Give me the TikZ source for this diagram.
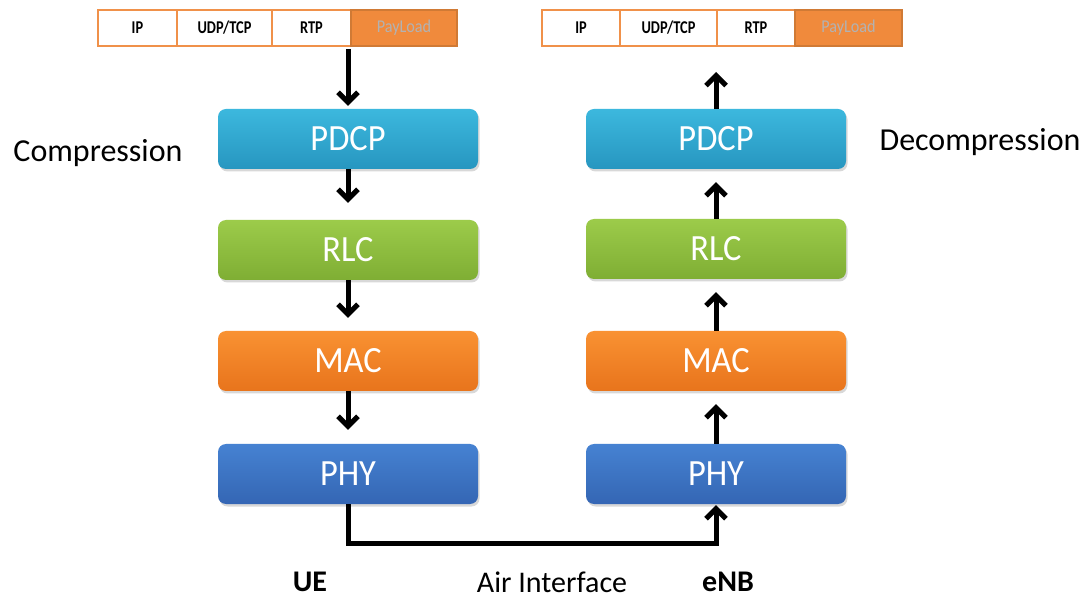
\documentclass[tikz,border=0pt]{standalone}
\usepackage{fontspec}
\setmainfont{Carlito}
\usetikzlibrary{arrows.meta,shadows}
\definecolor{hdr}{HTML}{F0914A}
\definecolor{hdrdark}{HTML}{D07A35}
\definecolor{payfill}{HTML}{F08A3C}
\definecolor{pdcpT}{HTML}{3CB8DE}
\definecolor{pdcpB}{HTML}{2796C0}
\definecolor{rlcT}{HTML}{9CCB4A}
\definecolor{rlcB}{HTML}{7FAE34}
\definecolor{macT}{HTML}{F99232}
\definecolor{macB}{HTML}{E8741C}
\definecolor{phyT}{HTML}{4682D2}
\definecolor{phyB}{HTML}{3466B4}
\begin{document}
\begin{tikzpicture}[x=1pt,y=-1pt]
\useasboundingbox[fill=white] (0,0) rectangle (1090,601);
\tikzset{
  layer/.style={rounded corners=8pt, minimum width=260pt, minimum height=60pt,
    text=white, font=\fontsize{37}{40}\selectfont, inner sep=0pt,
    drop shadow={opacity=0.3,shadow xshift=1.5pt,shadow yshift=-2.5pt}},
  pdcp/.style={layer, top color=pdcpT, bottom color=pdcpB},
  rlc/.style={layer, top color=rlcT, bottom color=rlcB},
  mac/.style={layer, top color=macT, bottom color=macB},
  phy/.style={layer, top color=phyT, bottom color=phyB},
  cell/.style={draw=hdr, line width=2.5pt, fill=white, minimum height=36pt, inner sep=0pt,
    font=\bfseries\fontsize{18}{20}\selectfont},
  paycell/.style={cell, fill=payfill, draw=hdrdark, font=\fontsize{18}{20}\selectfont, text=gray!60},
  flow/.style={line width=5pt, -{Straight Barb[length=10pt,width=20pt]}},
  lbl/.style={font=\fontsize{32}{36}\selectfont},
  blbl/.style={font=\bfseries\fontsize{30}{34}\selectfont}
}
% headers
\node[cell, minimum width=79pt] (lip) at (137.5,28) {\scalebox{0.8}[1]{IP}};
\node[cell, minimum width=95pt] (ludp) at (224.5,28) {\scalebox{0.8}[1]{UDP/TCP}};
\node[cell, minimum width=79pt] (lrtp) at (311.5,28) {\scalebox{0.8}[1]{RTP}};
\node[paycell, minimum width=106pt] (lpay) at (404,28) {\scalebox{0.9}[1]{PayLoad}};
\node[cell, minimum width=78pt] (rip) at (581,28) {\scalebox{0.8}[1]{IP}};
\node[cell, minimum width=97pt] (rudp) at (668.5,28) {\scalebox{0.8}[1]{UDP/TCP}};
\node[cell, minimum width=78pt] (rrtp) at (756,28) {\scalebox{0.8}[1]{RTP}};
\node[paycell, minimum width=107pt] (rpay) at (848.5,28) {\scalebox{0.9}[1]{PayLoad}};
% layers left
\node[pdcp] (lpdcp) at (348,139) {\scalebox{0.93}[1]{PDCP}};
\node[rlc]  (lrlc)  at (348,250) {\scalebox{0.93}[1]{RLC}};
\node[mac]  (lmac)  at (348,361) {\scalebox{0.93}[1]{MAC}};
\node[phy]  (lphy)  at (348,474) {\scalebox{0.93}[1]{PHY}};
% layers right
\node[pdcp] (rpdcp) at (716,139) {\scalebox{0.93}[1]{PDCP}};
\node[rlc]  (rrlc)  at (716,249) {\scalebox{0.93}[1]{RLC}};
\node[mac]  (rmac)  at (716,361) {\scalebox{0.93}[1]{MAC}};
\node[phy]  (rphy)  at (716,474) {\scalebox{0.93}[1]{PHY}};
% labels
\node[lbl] (comp) at (98,153) {Compression};
\node[lbl] (decomp) at (980,142) {Decompression};
\node[blbl] (ue) at (310,582) {UE};
\node[lbl, font=\fontsize{30}{34}\selectfont] (air) at (552,582) {Air Interface};
\node[blbl] (enb) at (728,582) {eNB};
% left arrows (down)
\coordinate (lh) at (348,49);
\draw[flow] (lh) -- ([yshift=3pt]lpdcp.north);
\draw[flow] (lpdcp.south) -- ([yshift=17pt]lrlc.north);
\draw[flow] (lrlc.south) -- ([yshift=13pt]lmac.north);
\draw[flow] (lmac.south) -- ([yshift=14pt]lphy.north);
% right arrows (up)
\coordinate (rh) at (716,72);
\draw[flow] (rpdcp.north) -- (rh);
\draw[flow] (rrlc.north) -- ([yshift=-13pt]rpdcp.south);
\draw[flow] (rmac.north) -- ([yshift=-13pt]rrlc.south);
\draw[flow] (rphy.north) -- ([yshift=-13pt]rmac.south);
% air interface
\coordinate (a1) at (348,543);
\coordinate (a2) at (716,543);
\draw[flow] (lphy.south) -- (a1) -- (a2) -- ([yshift=-1pt]rphy.south);
\end{tikzpicture}
\end{document}
